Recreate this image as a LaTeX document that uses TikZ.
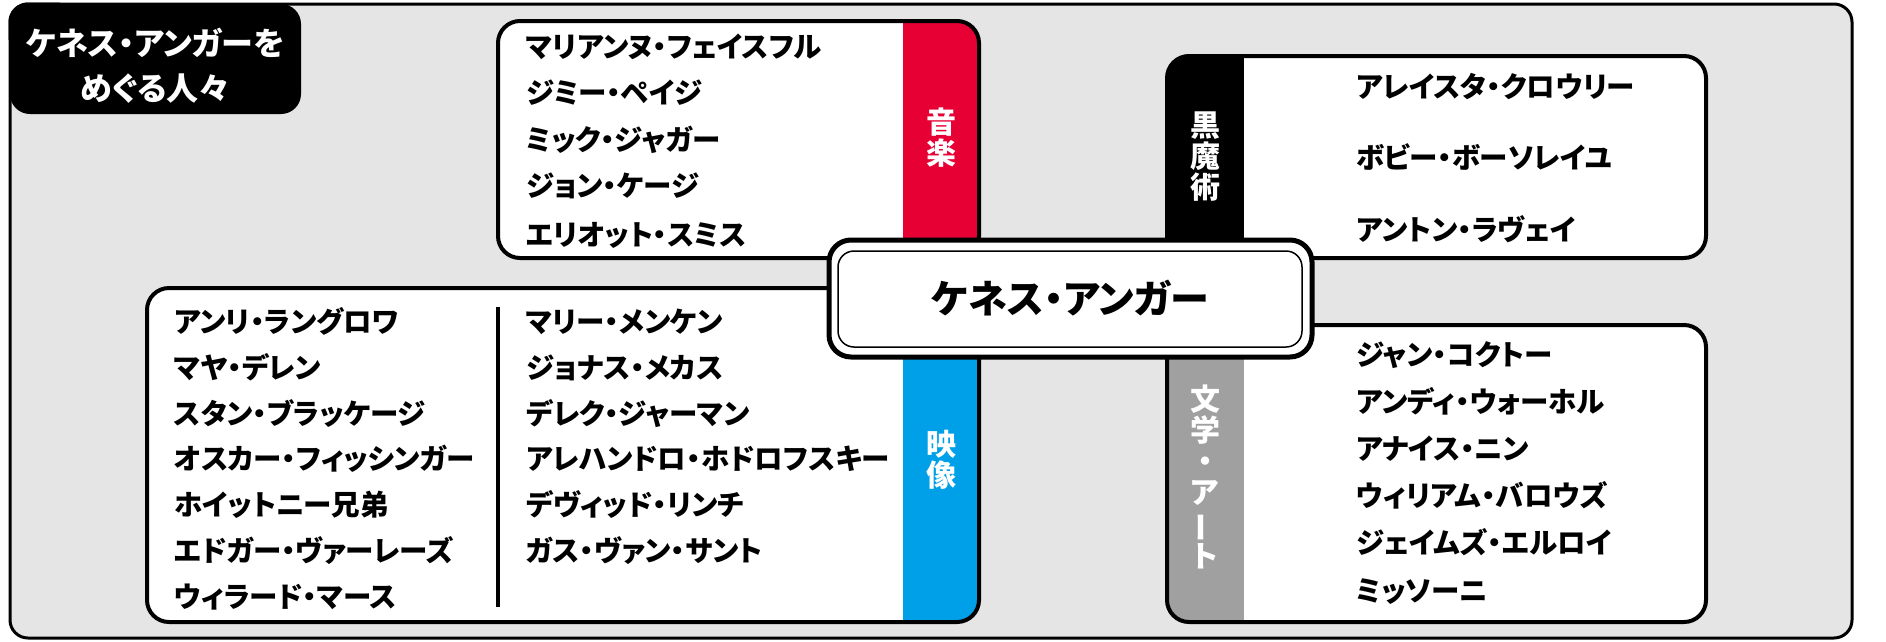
\documentclass[tikz,border=0pt]{standalone}
\usepackage{fontspec}
\setmainfont{Noto Sans CJK JP}[RawFeature=+palt]
\definecolor{bggrey}{HTML}{E5E5E5}
\definecolor{musicred}{HTML}{E60033}
\definecolor{movieblue}{HTML}{00A0E9}
\definecolor{artgrey}{HTML}{A0A0A0}
\tikzset{
  panel/.style={draw=black, line width=4pt, rounded corners=22pt},
  person/.style={anchor=west, inner sep=0pt, text height=25.1pt, text depth=3.4pt,
    font=\fontsize{28.5}{30}\selectfont\bfseries},
  tag/.style={inner sep=0pt, align=center, text=white,
    font=\fontsize{30}{31}\selectfont\bfseries},
  titletext/.style={inner sep=0pt, text=white, text height=28.2pt, text depth=3.8pt,
    font=\fontsize{32}{34}\selectfont\bfseries},
}
\begin{document}
\begin{tikzpicture}[x=1pt,y=-1pt]
\useasboundingbox (0,0) rectangle (1886,641);
% outer frame
\draw[fill=bggrey, line width=3pt, rounded corners=18pt] (10,4) rectangle (1852,638);
% title
\fill[black, rounded corners=20pt] (10,4) rectangle (301,114);
\draw[line width=3pt, rounded corners=18pt] (10,40) -- (10,4) -- (60,4);
\node[titletext] (title1) at (155,43) {ケネス・アンガーを};
\node[titletext] (title2) at (155,88) {めぐる人々};

% music panel
\fill[white, rounded corners=22pt] (498,21) rectangle (979,258);
\begin{scope}
  \clip[rounded corners=22pt] (498,21) rectangle (979,258);
  \fill[musicred] (903,0) rectangle (995,300);
\end{scope}
\draw[panel] (498,21) rectangle (979,258);
\node[tag] (musiclabel) at (941,138) {音\\楽};
\node[person] (m1) at (526,47) {マリアンヌ・フェイスフル};
\node[person] (m2) at (526,93) {ジミー・ペイジ};
\node[person] (m3) at (526,140) {ミック・ジャガー};
\node[person] (m4) at (526,186) {ジョン・ケージ};
\node[person] (m5) at (526,235) {エリオット・スミス};

% movie panel
\fill[white, rounded corners=22pt] (147,288) rectangle (979,622);
\begin{scope}
  \clip[rounded corners=22pt] (147,288) rectangle (979,622);
  \fill[movieblue] (903,270) rectangle (995,640);
\end{scope}
\draw[panel] (147,288) rectangle (979,622);
\node[tag] (movielabel) at (941,460) {映\\像};
\coordinate (divtop) at (498,307);
\coordinate (divbot) at (498,607);
\draw[line width=3.5pt] (divtop) -- (divbot);
\node[person] (v1) at (174,322) {アンリ・ラングロワ};
\node[person] (v2) at (174,368) {マヤ・デレン};
\node[person] (v3) at (174,414) {スタン・ブラッケージ};
\node[person] (v4) at (174,459) {オスカー・フィッシンガー};
\node[person] (v5) at (174,505) {ホイットニー兄弟};
\node[person] (v6) at (174,551) {エドガー・ヴァーレーズ};
\node[person] (v7) at (174,597) {ウィラード・マース};
\node[person] (w1) at (526,322) {マリー・メンケン};
\node[person] (w2) at (526,368) {ジョナス・メカス};
\node[person] (w3) at (526,414) {デレク・ジャーマン};
\node[person] (w4) at (526,459) {アレハンドロ・ホドロフスキー};
\node[person] (w5) at (526,505) {デヴィッド・リンチ};
\node[person] (w6) at (526,551) {ガス・ヴァン・サント};

% black magic panel
\fill[white, rounded corners=22pt] (1167,56) rectangle (1706,258);
\begin{scope}
  \clip[rounded corners=22pt] (1167,56) rectangle (1706,258);
  \fill[black] (1150,40) rectangle (1244,270);
\end{scope}
\draw[panel] (1167,56) rectangle (1706,258);
\node[tag] (magiclabel) at (1205,157) {黒\\魔\\術};
\node[person] (b1) at (1356,87) {アレイスタ・クロウリー};
\node[person] (b2) at (1356,158) {ボビー・ボーソレイユ};
\node[person] (b3) at (1356,230) {アントン・ラヴェイ};

% literature / art panel
\fill[white, rounded corners=22pt] (1167,325) rectangle (1706,622);
\begin{scope}
  \clip[rounded corners=22pt] (1167,325) rectangle (1706,622);
  \fill[artgrey] (1150,310) rectangle (1244,640);
\end{scope}
\draw[panel] (1167,325) rectangle (1706,622);
\node[tag] (artlabel) at (1205,477) {文\\学\\・\\ア\\\rotatebox[origin=c]{90}{ー}\\ト};
\node[person] (l1) at (1356,355) {ジャン・コクトー};
\node[person] (l2) at (1356,402) {アンディ・ウォーホル};
\node[person] (l3) at (1356,449) {アナイス・ニン};
\node[person] (l4) at (1356,496) {ウィリアム・バロウズ};
\node[person] (l5) at (1356,543) {ジェイムズ・エルロイ};
\node[person] (l6) at (1356,591) {ミッソーニ};

% central box
\draw[fill=white, line width=5pt, rounded corners=22pt] (829,240) rectangle (1312,357);
\draw[line width=1.5pt, rounded corners=16pt] (838,251) rectangle (1302,347);
\node[inner sep=0pt, text height=34.3pt, text depth=4.7pt,
  font=\fontsize{39}{42}\selectfont\bfseries] (anger) at (1070,299) {ケネス・アンガー};
\end{tikzpicture}
\end{document}
